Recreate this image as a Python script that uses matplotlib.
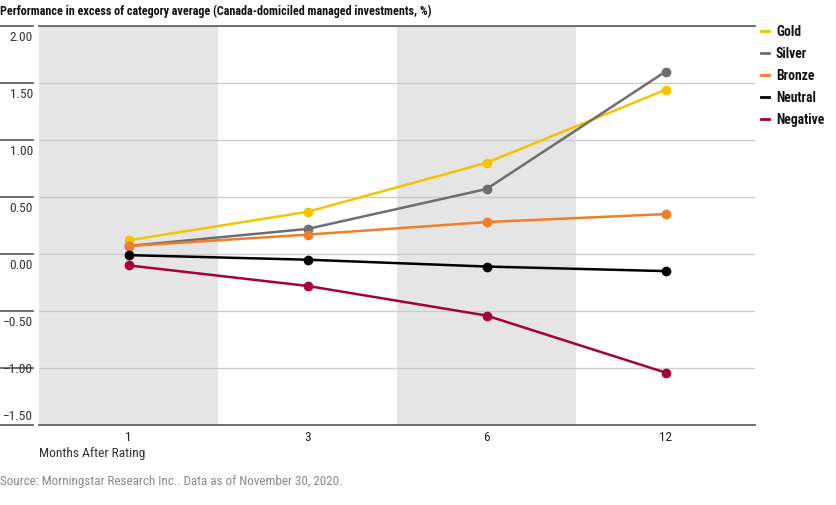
import matplotlib
matplotlib.use('Agg')
import matplotlib.pyplot as plt
from matplotlib.lines import Line2D

# Data
months = ['1', '3', '6', '12']
gold = [0.12, 0.37, 0.80, 1.44]
silver = [0.07, 0.22, 0.57, 1.60]
bronze = [0.07, 0.17, 0.28, 0.35]
neutral = [-0.01, -0.05, -0.11, -0.15]
negative = [-0.10, -0.28, -0.54, -1.04]

series_names = ['Gold', 'Silver', 'Bronze', 'Neutral', 'Negative']
series_colors = ['#f2c500', '#6e6e6e', '#f07d28', '#000000', '#a6003a']
y_ticks = [2.0, 1.5, 1.0, 0.5, 0.0, -0.5, -1.0, -1.5]

plt.rcParams['font.family'] = ['Roboto Condensed', 'DejaVu Sans']

fig = plt.figure(figsize=(8.36, 5.05), dpi=100)
ax = fig.add_axes([39 / 836, 1 - 425 / 505, 716 / 836, 399 / 505])

x = list(range(len(months)))
ax.set_xlim(-0.5, len(months) - 0.5)
ax.set_ylim(-1.5, 2.0)

# shaded bands behind every other column
for i in range(0, len(months), 2):
    ax.axvspan(i - 0.5, i + 0.5, color='#e5e5e5', zorder=0, lw=0)

for yv in y_ticks:
    ax.axhline(yv, color='#cccccc', lw=1, zorder=1)

all_series = [gold, silver, bronze, neutral, negative]
for vals, name, col in zip(all_series, series_names, series_colors):
    ax.plot(x, vals, color=col, lw=1.8, marker='o', ms=6, label=name, zorder=3)

# spines
for s in ['left', 'right']:
    ax.spines[s].set_visible(False)
for s in ['top', 'bottom']:
    ax.spines[s].set_color('#666666')
    ax.spines[s].set_linewidth(1.3)
    ax.spines[s].set_zorder(4)

ax.set_xticks(x)
ax.set_xticklabels(months, fontsize=9.6, color='#222222')
ax.tick_params(axis='x', length=0, pad=4)
ax.set_yticks([])

# y labels under short separator lines in the left margin
label_shift = [11.5, 11.5, 11.5, 11.5, 11.5, 11.5, 2, -9]
for yv, sh in zip(y_ticks, label_shift):
    ax.plot([-39 / 716, -6 / 716], [yv, yv], color='#555555', lw=1.2,
            transform=ax.get_yaxis_transform(), clip_on=False)
    pos = ax.transData.transform((0, yv))
    fy = (pos[1] - sh) / fig.dpi / fig.get_size_inches()[1]
    fig.text(33 / 836, fy, f'{yv:.2f}'.replace('-', '\u2212'), ha='right', va='center',
             fontsize=9.6, color='#333333')

fig.text(0.0, 1 - 11 / 505, 'Performance in excess of category average (Canada-domiciled managed investments, %)',
         ha='left', va='center', fontsize=8.7, fontweight='bold', color='#111111')
fig.text(39 / 836, 1 - 453 / 505, 'Months After Rating', ha='left', va='center',
         fontsize=9.6, color='#333333')
fig.text(0.0, 1 - 481 / 505, 'Source: Morningstar Research Inc.. Data as of November 30, 2020.',
         ha='left', va='center', fontsize=9.4, color='#888888')

handles = [Line2D([0], [0], color=c, lw=2) for c in series_colors]
leg = fig.legend(handles, series_names, loc='upper left', bbox_to_anchor=(761 / 836, 1 - 25 / 505),
                 frameon=False, handlelength=0.6, handletextpad=0.5, labelspacing=0.58,
                 borderpad=0, borderaxespad=0, prop={'size': 9.8, 'weight': 'bold'})
for t in leg.get_texts():
    t.set_color('#111111')

fig.savefig('out.png', dpi=100)
